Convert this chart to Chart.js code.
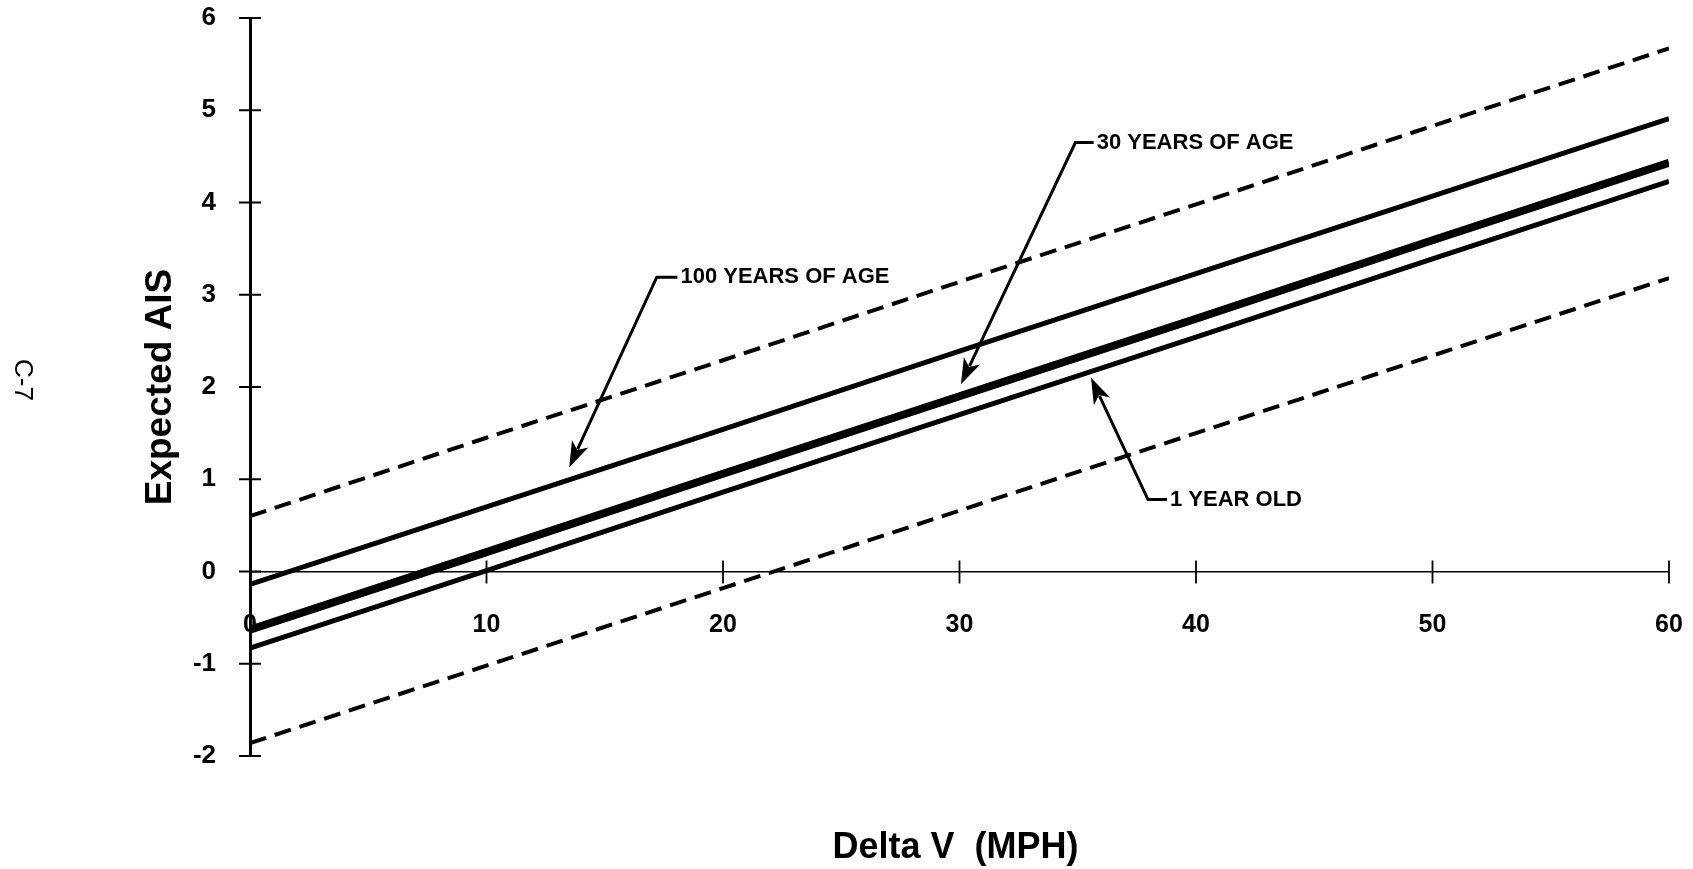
<!DOCTYPE html>
<html><head><meta charset="utf-8">
<script src="https://cdn.jsdelivr.net/npm/chart.js@4"></script>
<style>html,body{margin:0;padding:0;background:#fff;} #wrap{position:relative;width:1693px;height:869px;}</style>
</head><body><div id="wrap"><canvas id="c"></canvas></div>
<script>
// ---- data ----
const deltaV     = [0, 10, 20, 30, 40, 50, 60];
const upperBound = [0.60, 1.45, 2.29, 3.14, 3.98, 4.83, 5.67];
const age100     = [-0.14, 0.70, 1.54, 2.39, 3.23, 4.07, 4.91];
const age30      = [-0.63, 0.21, 1.06, 1.90, 2.74, 3.59, 4.43];
const age1       = [-0.83, 0.01, 0.86, 1.70, 2.54, 3.39, 4.23];
const lowerBound = [-1.86, -1.02, -0.18, 0.66, 1.50, 2.34, 3.18];
const xTickValues = [0, 10, 20, 30, 40, 50, 60];
const yTickValues = [-2, -1, 0, 1, 2, 3, 4, 5, 6];
const annotationTexts = ['100 YEARS OF AGE', '30 YEARS OF AGE', '1 YEAR OLD'];
const xTitle = 'Delta V  (MPH)';
const yTitle = 'Expected AIS';
const pageMark = 'C-7';

const pts = arr => deltaV.map((x, i) => ({x: x, y: arr[i]}));

// annotation anchor positions in data units (label start, leader corner, arrow tip)
const annotationPos = [
  {label: [18.2, 3.19], corner: [17.2, 3.19], tip: [13.5, 1.13]},
  {label: [35.8, 4.65], corner: [34.9, 4.65], tip: [30.06, 2.03]},
  {label: [38.9, 0.78], corner: [37.97, 0.78], tip: [35.56, 2.10]}
];

const FONT = '"Liberation Sans", Arial, sans-serif';

const overlay = {
  id: 'overlay',
  afterDraw(chart) {
    const ctx = chart.ctx, xs = chart.scales.x, ys = chart.scales.y;
    const x0 = xs.getPixelForValue(0), y0 = ys.getPixelForValue(0);
    ctx.save();
    ctx.strokeStyle = '#000';
    ctx.fillStyle = '#000';
    // crossing tick marks
    ctx.lineWidth = 2;
    yTickValues.forEach(v => {
      const py = ys.getPixelForValue(v);
      ctx.beginPath(); ctx.moveTo(x0 - 11, py); ctx.lineTo(x0 + 11, py); ctx.stroke();
    });
    ctx.lineWidth = 1.8;
    xTickValues.forEach(v => {
      if (v === 0) return;
      const px = xs.getPixelForValue(v);
      ctx.beginPath(); ctx.moveTo(px, y0 - 11); ctx.lineTo(px, y0 + 12); ctx.stroke();
    });
    // annotations
    ctx.font = 'bold 22px ' + FONT;
    ctx.textBaseline = 'middle';
    ctx.textAlign = 'left';
    annotationTexts.forEach((t, i) => {
      const a = annotationPos[i];
      const lx = xs.getPixelForValue(a.label[0]), ly = ys.getPixelForValue(a.label[1]);
      const cx = xs.getPixelForValue(a.corner[0]), cy = ys.getPixelForValue(a.corner[1]);
      const tx = xs.getPixelForValue(a.tip[0]), ty = ys.getPixelForValue(a.tip[1]);
      ctx.fillText(t, lx, ly);
      ctx.lineWidth = 3;
      const ang = Math.atan2(ty - cy, tx - cx);
      const hl = 26, hw = 9;
      const bx = tx - hl * Math.cos(ang), by = ty - hl * Math.sin(ang);
      ctx.beginPath();
      ctx.moveTo(lx - 3, cy);
      ctx.lineTo(cx, cy);
      ctx.lineTo(bx + 6 * Math.cos(ang), by + 6 * Math.sin(ang));
      ctx.stroke();
      ctx.beginPath();
      ctx.moveTo(tx, ty);
      ctx.lineTo(bx + hw * Math.sin(ang), by - hw * Math.cos(ang));
      ctx.lineTo(bx + 7 * Math.cos(ang), by + 7 * Math.sin(ang));
      ctx.lineTo(bx - hw * Math.sin(ang), by + hw * Math.cos(ang));
      ctx.closePath();
      ctx.fill();
    });
    // x axis title
    ctx.font = 'bold 36px ' + FONT;
    ctx.textAlign = 'center';
    ctx.fillText(xTitle, (chart.chartArea.left + chart.chartArea.right) / 2 - 4, 848);
    // page mark
    ctx.font = '26px ' + FONT;
    ctx.translate(22, 380);
    ctx.rotate(Math.PI / 2);
    ctx.fillText(pageMark, 0, 0);
    ctx.restore();
  }
};

new Chart(document.getElementById('c'), {
  type: 'line',
  data: {
    datasets: [
      {label: 'Upper bound', data: pts(upperBound), borderColor: '#000', borderWidth: 4, borderDash: [17, 9], pointRadius: 0},
      {label: '100 years of age', data: pts(age100), borderColor: '#000', borderWidth: 5, pointRadius: 0},
      {label: '30 years of age', data: pts(age30), borderColor: '#000', borderWidth: 8, pointRadius: 0},
      {label: '1 year old', data: pts(age1), borderColor: '#000', borderWidth: 5, pointRadius: 0},
      {label: 'Lower bound', data: pts(lowerBound), borderColor: '#000', borderWidth: 4, borderDash: [17, 9], pointRadius: 0}
    ]
  },
  options: {
    responsive: true,
    maintainAspectRatio: false,
    animation: false,
    events: [],
    layout: {padding: {left: 0, top: 18, right: 24, bottom: 113}},
    plugins: {legend: {display: false}, tooltip: {enabled: false}},
    elements: {line: {tension: 0, fill: false, borderCapStyle: 'butt'}},
    scales: {
      x: {
        type: 'linear',
        position: {y: 0},
        min: 0, max: 60,
        afterBuildTicks: s => { s.ticks = xTickValues.map(v => ({value: v})); },
        afterFit: s => { s.paddingLeft = 0; s.paddingRight = 0; s.paddingTop = 0; s.paddingBottom = 0; },
        ticks: {color: '#000', padding: 39, maxRotation: 0, font: {family: FONT, size: 25, weight: 'bold'}},
        grid: {display: false, drawTicks: false},
        border: {display: true, color: '#000', width: 1.5}
      },
      y: {
        type: 'linear',
        position: 'left',
        min: -2, max: 6,
        afterBuildTicks: s => { s.ticks = yTickValues.map(v => ({value: v})); },
        afterFit: s => { s.width = 250; s.paddingLeft = 0; s.paddingRight = 0; s.paddingTop = 0; s.paddingBottom = 0; },
        ticks: {color: '#000', padding: 34, font: {family: FONT, size: 26, weight: 'bold'}},
        grid: {display: false, drawTicks: false},
        border: {display: true, color: '#000', width: 3},
        title: {display: true, text: yTitle, color: '#000', padding: {top: 139, bottom: 0},
                font: {family: FONT, size: 37, weight: 'bold'}}
      }
    }
  },
  plugins: [overlay]
});
</script>
</body></html>
